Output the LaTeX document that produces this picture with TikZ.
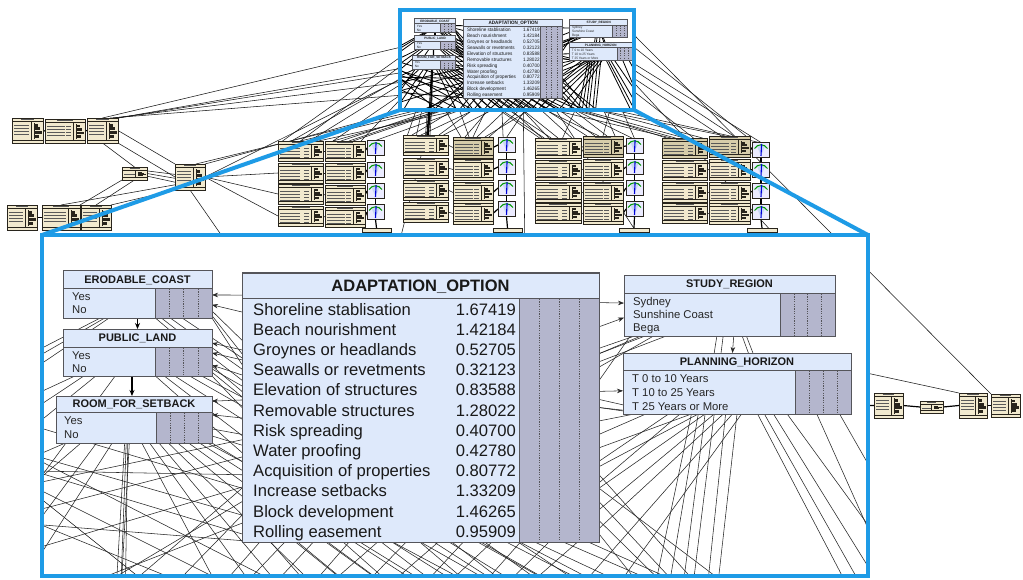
\documentclass[tikz,border=0pt]{standalone}
\usepackage{fontspec}
\setmainfont{Liberation Sans}
\usetikzlibrary{calc,arrows.meta}

\definecolor{cBlue}{RGB}{30,155,230}
\definecolor{cBN}{RGB}{222,233,251}
\definecolor{cBar}{RGB}{180,182,205}
\definecolor{cBorder}{RGB}{85,85,90}
\definecolor{cTan}{RGB}{241,233,206}
\definecolor{cTanDark}{RGB}{214,204,170}
\definecolor{cTanEdge}{RGB}{40,36,28}
\definecolor{cGauge}{RGB}{200,215,245}

\tikzset{
  hold/.style={rectangle, draw=none, fill=none, inner sep=0pt, outer sep=0pt},
  bnrule/.style={draw=cBorder, line width=0.6pt},
  bnframe/.style={draw=cBorder, line width=1pt},
  barline/.style={draw=cBorder, line width=0.4pt, dash pattern=on 1.2pt off 1.2pt},
  bntitle/.style={inner sep=0pt, text=black!90},
  bnstate/.style={inner sep=0pt, font=\fontsize{11.3}{13}\selectfont, text=black!85},
  aostate/.style={inner sep=0pt, font=\fontsize{16.6}{19}\selectfont, text=black!90},
  netline/.style={draw=black!85, line width=0.55pt},
  arrowedge/.style={netline, -{Stealth[length=6pt,width=4.5pt]}},
  thickarrow/.style={draw=black, line width=1.6pt, -{Stealth[length=6pt,width=5pt]}},
  netlink/.style={draw=black!90, line width=0.55pt},
  netlinkthick/.style={draw=black, line width=1.2pt},
  tanbox/.style={rectangle, draw=cTanEdge, line width=0.8pt, inner sep=0pt, outer sep=0pt},
  tanrule/.style={draw=cTanEdge, line width=0.35pt},
  tanink/.style={draw=black!65, line width=0.7pt},
  gaugebox/.style={rectangle, draw=cTanEdge, line width=0.8pt, fill=white!92!blue, inner sep=0pt, outer sep=0pt},
  zoomframe/.style={draw=cBlue, line width=4pt},
  zoomlink/.style={draw=cBlue, line width=4pt, line cap=round},
  insetxf/.style={shift={(397,-61)}, xscale=0.2765, yscale=0.2937, transform shape},
}

% ---------- Bayesian network nodes (name, x, y, w, h, header h, bar w, title, title size)
\newcommand\bnplace[9]{%
  \node[hold, minimum width=#4, minimum height=#5, anchor=north west] (\pfx#1) at (#2,#3) {};}
\newcommand\bndraw[9]{%
  \fill[cBN] (#2,#3) rectangle ++(#4,#5);
  \fill[cBar] ({#2+#4-#7},{#3+#6}) rectangle ({#2+#4},{#3+#5});
  \draw[bnrule] (#2,{#3+#6}) -- ++(#4,0);
  \draw[bnrule] ({#2+#4-#7},{#3+#6}) -- ({#2+#4-#7},{#3+#5});
  \foreach \k in {1,2,3} \draw[barline] ({#2+#4-#7+\k*#7/4},{#3+#6+1}) -- ({#2+#4-#7+\k*#7/4},{#3+#5-1});
  \draw[bnframe] (#2,#3) rectangle ++(#4,#5);
  \node[bntitle, font=\bfseries\fontsize{#9}{#9}\selectfont, anchor=base] (\pfx#1-title)
    at ({#2+#4/2},{#3+#6/2+0.36*#9}) {#8};}
\newcommand\bnlist{%
  \bnnode{ec}{63}{271}{149}{47}{17}{57}{ERODABLE\_COAST}{11}%
  \bnnode{pl}{63}{329}{149}{47}{18}{57}{PUBLIC\_LAND}{11}%
  \bnnode{rs}{56}{396}{156}{47}{16}{56}{ROOM\_FOR\_SETBACK}{11}%
  \bnnode{ao}{242}{273}{357}{269}{25}{80}{ADAPTATION\_OPTION}{16.5}%
  \bnnode{sr}{624}{275}{211}{61}{18}{55}{STUDY\_REGION}{11}%
  \bnnode{ph}{623}{353}{228}{61}{17}{56}{PLANNING\_HORIZON}{11}%
}
\newcommand\bncoords{%
  \foreach \x in {0,5,...,1100} \coordinate (\pfx b\x) at (\x,610);
  \foreach \y in {300,305,...,700} \coordinate (\pfx l\y) at (-20,\y);
  \foreach \y in {300,305,...,700} \coordinate (\pfx r\y) at (900,\y);
}
\newcommand\bnstates[5]{%
  \foreach \st [count=\i] in {#5}
    \node[bnstate, anchor=base west] (\pfx#1-s\i) at (#2,{#3+(\i-1)*#4}) {\st};}
\newcommand\bnvisible{%
  \let\bnnode\bndraw \bnlist
  \bnstates{ec}{72}{300}{13.3}{Yes,No}
  \bnstates{pl}{72}{359}{13.3}{Yes,No}
  \bnstates{rs}{64}{424.3}{14}{Yes,No}
  \bnstates{sr}{633}{305.3}{13.3}{Sydney,Sunshine Coast,Bega}
  \bnstates{ph}{632}{382.7}{13.7}{T 0 to 10 Years,T 10 to 25 Years,T 25 Years or More}
  \foreach \st/\val [count=\i] in {Shoreline stablisation/1.67419, Beach nourishment/1.42184,
      Groynes or headlands/0.52705, Seawalls or revetments/0.32123, Elevation of structures/0.83588,
      Removable structures/1.28022, Risk spreading/0.40700, Water proofing/0.42780,
      Acquisition of properties/0.80772, Increase setbacks/1.33209, Block development/1.46265,
      Rolling easement/0.95909} {
    \node[aostate, anchor=base west] (\pfx ao-s\i) at (253,{315+(\i-1)*20.2}) {\st};
    \node[aostate, anchor=base east] (\pfx ao-v\i) at (516,{315+(\i-1)*20.2}) {\val};
  }
}
\newcommand\bnedges{%
  % ROOM_FOR_SETBACK downwards
  \foreach \fa/\tg in {0.44/b115,0.45/b120,0.47/b120,0.46/b125,0.06/l480,0.16/l530,0.26/l600,0.36/b5,
      0.55/b230,0.6/b270,0.66/b300,0.72/b340,0.78/b380,0.85/b420,0.92/b460,0.97/b520}
    {\draw[netline] ($(\pfx rs.south west)!\fa!(\pfx rs.south east)$) -- (\pfx\tg);}
  % PUBLIC_LAND downwards
  \foreach \fa/\tg in {0.08/l420,0.14/l445,0.22/l470,0.35/l560,0.62/b420,0.68/b470,0.75/b540,0.85/b600,0.93/b650}
    {\draw[netline] ($(\pfx pl.south west)!\fa!(\pfx pl.south east)$) -- (\pfx\tg);}
  % ERODABLE_COAST downwards
  \foreach \fa/\tg in {0.25/l380,0.28/l390,0.31/l405,0.62/b500,0.66/b540,0.72/b580,0.8/b620}
    {\draw[netline] ($(\pfx ec.south west)!\fa!(\pfx ec.south east)$) -- (\pfx\tg);}
  % ADAPTATION_OPTION downwards
  \foreach \fa/\tg in {0.05/b200,0.08/b330,0.12/b220,0.15/b380,0.2/b250,0.24/b420,0.3/b290,0.33/b470,
      0.38/b300,0.42/b500,0.46/b340,0.5/b540,0.55/b360,0.58/b560,0.62/b400,0.66/b600,0.7/b420,
      0.74/b640,0.78/b460,0.82/b680,0.86/b480,0.9/b720,0.94/b500,0.97/b740}
    {\draw[netline] ($(\pfx ao.south west)!\fa!(\pfx ao.south east)$) -- (\pfx\tg);}
  \foreach \fa/\tg in {0.75/b720,0.85/b700,0.92/b690,0.97/b660,0.8/b760}
    {\draw[netline] ($(\pfx ao.north east)!\fa!(\pfx ao.south east)$) -- (\pfx\tg);}
  % PLANNING_HORIZON downwards
  \foreach \fa/\tg in {0.3/b650,0.33/b665,0.36/b680,0.4/b690,0.45/b705,0.5/b715,0.48/b560,0.52/b600,
      0.59/b860,0.62/b875,0.66/b895,0.72/b930,0.95/r520,0.85/r600}
    {\draw[netline] ($(\pfx ph.south west)!\fa!(\pfx ph.south east)$) -- (\pfx\tg);}
  % links reaching ADAPTATION_OPTION from the lower left
  \foreach \tg/\fb in {l525/0.684,l565/0.796,l495/0.62,l440/0.9,l455/0.97,l520/0.995,l410/0.8,
      l470/0.75,b60/0.85,b20/0.93,b100/0.8,b150/0.9}
    {\draw[netline] (\pfx\tg) -- ($(\pfx ao.north west)!\fb!(\pfx ao.south west)$);}
  \foreach \sa/\tg in {l430/b330,l460/b280,l500/b250,b180/l450}
    {\draw[netline] (\pfx\sa) -- (\pfx\tg);}
  % left-hand nodes into ADAPTATION_OPTION
  \foreach \nd/\fa/\fb in {ec/0.85/0.25,ec/0.95/0.3,ec/1.0/0.34,pl/0.85/0.42,pl/0.92/0.46,pl/1.0/0.5,
      rs/0.7/0.6,rs/0.85/0.64,rs/1.0/0.7}
    {\draw[netline] ($(\pfx\nd.north east)!\fa!(\pfx\nd.south east)$) -- ($(\pfx ao.north west)!\fb!(\pfx ao.south west)$);}
  \foreach \fa/\nd/\fb in {0.082/ec/0.51,0.145/ec/0.72,0.286/pl/0.30,0.323/pl/0.51,0.379/pl/0.77,
      0.472/rs/0.11,0.539/rs/0.40}
    {\draw[arrowedge] ($(\pfx ao.north west)!\fa!(\pfx ao.south west)$) -- ($(\pfx\nd.north east)!\fb!(\pfx\nd.south east)$);}
  % ADAPTATION_OPTION towards the right-hand nodes
  \foreach \fa/\nd/\fb in {0.11/sr/0.46,0.2/sr/0.70,0.44/ph/0.62}
    {\draw[arrowedge] ($(\pfx ao.north east)!\fa!(\pfx ao.south east)$) -- ($(\pfx\nd.north west)!\fb!(\pfx\nd.south west)$);}
  \foreach \fa/\nd/\fb in {0.3/sr/0.08,0.35/sr/0.14,0.4/sr/0.03,0.55/ph/0.05,0.6/ph/0.1,0.65/ph/0.3,
      0.7/ph/0.2,0.72/ph/0.33,0.78/ph/0.25,0.8/ph/0.36,0.88/ph/0.4,0.95/ph/0.44,0.5/ph/0.15}
    {\draw[netline] ($(\pfx ao.north east)!\fa!(\pfx ao.south east)$) -- ($(\pfx\nd.south west)!\fb!(\pfx\nd.south east)$);}
  \foreach \fa/\fb in {0.5/0.95,0.47/0.85}
    {\draw[netline] ($(\pfx ao.north east)!\fa!(\pfx ao.south east)$) -- ($(\pfx ph.north west)!\fb!(\pfx ph.south west)$);}
  % STUDY_REGION downwards
  \draw[arrowedge] ($(\pfx sr.south west)!0.52!(\pfx sr.south east)$) -- ($(\pfx ph.north west)!0.48!(\pfx ph.north east)$);
  \foreach \fa/\fb in {0.44/0.4,0.47/0.43,0.56/0.55,0.58/0.57}
    {\draw[netline] ($(\pfx sr.south west)!\fa!(\pfx sr.south east)$) -- ($(\pfx ph.north west)!\fb!(\pfx ph.north east)$);}
  \foreach \fa/\fb in {0.05/0.28,0.1/0.3,0.2/0.33}
    {\draw[netline] ($(\pfx sr.south west)!\fa!(\pfx sr.south east)$) -- ($(\pfx ao.north east)!\fb!(\pfx ao.south east)$);}
  % chain of the left-hand nodes
  \draw[thickarrow] ($(\pfx ec.south west)!0.5!(\pfx ec.south east)$) -- ($(\pfx pl.north west)!0.5!(\pfx pl.north east)$);
  \draw[thickarrow] ($(\pfx pl.south west)!0.463!(\pfx pl.south east)$) -- ($(\pfx rs.north west)!0.487!(\pfx rs.north east)$);
}

% ---------- small network nodes of the full model
\newcommand\tanplace[6]{%
  \node[hold, minimum width=#4, minimum height=#5, anchor=north west] (#1) at (#2,#3) {};}
\newcommand\tandraw[6]{%
  \node[tanbox, fill=#6, minimum width=#4, minimum height=#5, anchor=north west] (#1) at (#2,#3) {};
  \draw[tanrule] (#2,{#3+3.5}) -- ++(#4,0);
  \draw[tanrule] (#2,{#3+#5-3}) -- ++(#4,0);
  \draw[tanink] ({#2+#4*0.3},{#3+1.8}) -- ++({#4*0.4},0);
  \pgfmathtruncatemacro\tanrows{max(1,min(4,(#5-8)/3))}%
  \foreach \k in {1,...,\tanrows} {
    \draw[tanink] ({#2+2},{#3+4+\k*3}) -- ++({#4*0.45},0);
    \draw[tanink] ({#2+#4-19},{#3+4+\k*3}) -- ++(5,0);
  }
  \draw[tanrule] ({#2+#4-12},{#3+3.5}) -- ({#2+#4-12},{#3+#5-3});
  \fill[cTanEdge] ({#2+#4-9},{#3+5}) rectangle ({#2+#4-7.6},{#3+#5-4});
  \foreach \q/\blen in {0.05/2.5,0.3/4.5,0.55/6.5,0.8/3.5}
    \fill[cTanEdge] ({#2+#4-7.6},{#3+5+(#5-10)*\q}) rectangle ++(\blen,{max(1.2,(#5-10)*0.2)});
}
\newcommand\gaugeplace[3]{\node[hold, minimum width=17, minimum height=15] (#1) at (#2,#3) {};}
\newcommand\gaugedraw[3]{%
  \node[gaugebox, minimum width=17, minimum height=15] (#1) at (#2,#3) {};
  \fill[cGauge] (#2,{#3+6}) -- ({#2-4.5},{#3-5}) -- ({#2+4.5},{#3-5}) -- cycle;
  \draw[green!60!black, line width=1pt] ({#2-6.5},{#3-1.5}) .. controls ({#2-3},{#3-6.5}) and ({#2+3},{#3-6.5}) .. ({#2+6.5},{#3-1.5});
  \draw[blue!85!black, line width=1.1pt] (#2,{#3+6}) -- ({#2+0.6},{#3-6});
}
\newcommand\barplace[5]{\node[hold, minimum width=#4, minimum height=#5, anchor=north west] (#1) at (#2,#3) {};}
\newcommand\bardraw[5]{\node[tanbox, fill=cTan, minimum width=#4, minimum height=#5, anchor=north west] (#1) at (#2,#3) {};}
\newcommand\tancol[6]{%
  \foreach \yy [count=\i] in {#5} {%
    \ifnum\i=1 \def\tancolour{#6}\else\def\tancolour{cTan}\fi
    \tannode{#1\i}{#2}{\yy}{#3}{#4}{\tancolour}}}
\newcommand\gaugecol[3]{\foreach \yy [count=\i] in {#3} {\gaugenode{#1\i}{#2}{\yy}}}
\newcommand\tanlist{%
  \tannode{L1}{12}{118}{31}{25}{cTan}
  \tannode{L2}{45}{119}{40}{24}{cTan}
  \tannode{L3}{87}{118}{31}{25}{cTan}
  \tannode{L4}{122}{167}{25}{13}{cTan}
  \tannode{L5}{175}{164}{30}{26}{cTan}
  \tannode{L6}{7}{205}{30}{25}{cTan}
  \tannode{L7}{42}{205}{38}{25}{cTan}
  \tannode{L8}{81}{205}{30}{25}{cTan}
  \tannode{R1}{874}{393}{29}{25}{cTan}
  \tannode{R2}{920}{401}{23}{12}{cTan}
  \tannode{R3}{959}{393}{28}{25}{cTan}
  \tannode{R4}{991}{394}{29}{23}{cTan}
  \tancol{g1a}{278}{45}{20}{141,163,184,206}{cTan}
  \tancol{g1b}{325}{40}{20}{141,163,185,207}{cTan}
  \gaugecol{g1g}{375.5}{148,170,191,212}
  \barnode{g1bar}{362}{228}{29}{4}
  \tancol{g2a}{403}{45}{20}{135,158,180,202}{cTan}
  \tancol{g2b}{453}{40}{21}{137,159,182,203}{cTanDark}
  \gaugecol{g2g}{506.5}{145,167,188,209}
  \barnode{g2bar}{493}{228}{29}{4}
  \tancol{g3a}{535}{46}{20}{138,160,182,203}{cTan}
  \tancol{g3b}{583}{40}{21}{136,159,182,203}{cTanDark}
  \gaugecol{g3g}{634.5}{146,167,188,209}
  \barnode{g3bar}{619}{228}{30}{4}
  \tancol{g4a}{662}{45}{20}{138,160,182,203}{cTanDark}
  \tancol{g4b}{709}{41}{21}{136,159,182,203}{cTanDark}
  \gaugecol{g4g}{761}{150,170,191,212}
  \barnode{g4bar}{747}{228}{30}{4}
}

\begin{document}
\begin{tikzpicture}[x=1pt,y=-1pt]
\useasboundingbox (0,0) rectangle (1023,580);
\fill[white] (0,0) rectangle (1023,580);
\coordinate (insetSW) at (400,110);
\coordinate (insetSE) at (634,110);
\coordinate (zoomNW) at (42,235);
\coordinate (zoomNE) at (868,235);

% anchors of the reduced overview copy
\begin{scope}[insetxf]
  \def\pfx{m}\let\bnnode\bnplace
  \bnlist \bncoords
\end{scope}

% anchors of the surrounding model
\let\tannode\tanplace \let\gaugenode\gaugeplace \let\barnode\barplace
\tanlist
\coordinate (hidA) at (525,260);
\coordinate (hidB) at (655,260);
\coordinate (hidC) at (395,260);
\coordinate (hidD) at (800,262);
\coordinate (hidE) at (240,262);
\coordinate (hidF) at (840,405);
\coordinate (hidG) at (700,337);

% links inside the groups
\foreach \g in {1,2,3,4} {
  \foreach \i in {1,2,3,4} {
    \draw[netlink] (g\g a\i.east) -- (g\g b\i.west);
    \draw[netlinkthick] (g\g b\i.east) -- (g\g g\i.west);
  }
  \foreach \i/\j in {1/2,2/3,3/4} \draw[netlinkthick] (g\g g\i.south) -- (g\g g\j.north);
  \draw[netlinkthick] (g\g g4.south) -- (g\g bar.north);
}
% left cluster
\draw[netlinkthick] (L1.east) -- (L2.west);
\draw[netlinkthick] (L2.east) -- (L3.west);
\draw[netlinkthick] (L6.east) -- (L7.west);
\draw[netlinkthick] (L7.east) -- (L8.west);
\draw[netlink] (L3.south) -- (L4.north);
\draw[netlink] (L3.south east) -- (L5.west);
\draw[netlink] (L3.east) -- (L5.north west);
\foreach \fa/\fb in {0.3/0.4,0.5/0.55,0.7/0.7}
  \draw[netlink] ($(L4.north east)!\fa!(L4.south east)$) -- ($(L5.north west)!\fb!(L5.south west)$);
\draw[netlink] (L4.south) -- (L8.north);
\draw[netlink] (L4.south west) -- (L7.north east);
\draw[netlink] (L5.south west) -- (L8.north east);
\draw[netlink] ($(L5.north west)!0.8!(L5.south west)$) -- (L7.north);
\draw[netlink] (L5.south) -- (hidE);
\foreach \fa/\fb in {0.75/0.9,0.85/0.7,1.0/0.55}
  \draw[netlink] ($(L3.north west)!\fa!(L3.north east)$) -- ($(mao.north west)!\fb!(mao.south west)$);
\draw[netlink] (L3.north east) -- ($(mrs.north west)!0.8!(mrs.south west)$);
\draw[netlink] (L3.north) -- ($(mpl.north west)!0.6!(mpl.south west)$);
\draw[netlink] (L5.north east) -- ($(mao.north west)!0.95!(mao.south west)$);
\draw[netlink] ($(L5.north west)!0.7!(L5.north east)$) -- ($(mao.south west)!0.03!(mao.south east)$);
\draw[netlink] (L5.east) -- ($(mrs.south west)!0.2!(mrs.south east)$);
\foreach \r in {2,3,4} \draw[netlink] (L5.east) -- (g1a\r.west);
% right cluster
\draw[netlinkthick] (hidF) -- (R1.west);
\draw[netlinkthick] (R1.east) -- (R2.west);
\draw[netlinkthick] (R2.east) -- (R3.west);
\draw[netlinkthick] (R3.east) -- (R4.west);
\draw[netlink] (hidG) -- (R3.north west);
\draw[netlink] (msr.east) -- (R4.north west);
% overview nodes to the groups
\foreach \sa/\fa/\da/\fb in {mrs/0.1/g1a1/0.3, mrs/0.3/g1a1/0.7, mpl/0.2/g1a1/0.5, mao/0.05/g1b1/0.4,
    mao/0.15/g1b1/0.7, mrs/0.6/g1b1/0.2, mao/0.3/g1g1/0.5, mao/0.5/g1a1/0.9, mec/0.5/g1a1/0.1,
    mpl/0.8/g1b1/0.9, mrs/0.42/g2a1/0.5, mrs/0.5/g2a1/0.6, mao/0.1/g2a1/0.2, mao/0.25/g2a1/0.8,
    mao/0.35/g2b1/0.3, mao/0.55/g2b1/0.6, mph/0.1/g2b1/0.9, mao/0.7/g2g1/0.5, mec/0.7/g2a1/0.1,
    mph/0.3/g2a1/0.9, mao/0.2/g3a1/0.2, mao/0.45/g3a1/0.5, mao/0.65/g3a1/0.8, mao/0.8/g3b1/0.3,
    mao/0.95/g3b1/0.6, mph/0.2/g3b1/0.8, mph/0.5/g3g1/0.5, mrs/0.8/g3a1/0.35, mpl/0.9/g3b1/0.1,
    mao/0.4/g4a1/0.2, mao/0.75/g4a1/0.5, mph/0.4/g4a1/0.7, mph/0.6/g4b1/0.3, mph/0.8/g4b1/0.6,
    mph/0.95/g4g1/0.5, msr/0.9/g4b1/0.9, mao/0.9/g4a1/0.9, mrs/0.9/g4a1/0.1,
    mao/0.12/g1a1/0.5, mao/0.22/g1b1/0.2, mao/0.28/g2b1/0.5, mao/0.38/g2g1/0.3, mao/0.48/g3a1/0.3,
    mao/0.58/g3b1/0.4, mao/0.68/g4a1/0.3, mao/0.78/g4b1/0.4, mao/0.88/g3g1/0.4, mao/0.98/g4g1/0.4,
    mph/0.15/g2a1/0.4, mph/0.25/g1b1/0.6, mph/0.45/g3a1/0.6, mph/0.65/g2b1/0.8, mph/0.85/g3b1/0.5,
    mrs/0.2/g2b1/0.2, mrs/0.65/g3a1/0.1, mrs/0.75/g2b1/0.4, mpl/0.5/g2a1/0.3, mec/0.3/g3a1/0.15}
  {\draw[netlink] ($(\sa.south west)!\fa!(\sa.south east)$) -- ($(\da.north west)!\fb!(\da.north east)$);}
\draw[draw=black, line width=2.5pt] ($(mrs.south west)!0.46!(mrs.south east)$) -- ($(g2a1.north west)!0.55!(g2a1.north east)$);
\draw[netlink] ($(mao.south west)!0.6!(mao.south east)$) -- (hidA);
\draw[netlink] ($(mao.south west)!0.85!(mao.south east)$) -- (hidB);
\draw[netlink] ($(mrs.south west)!0.7!(mrs.south east)$) -- (hidC);
\draw[netlink] ($(mph.south west)!0.7!(mph.south east)$) -- (hidD);

% nodes of the surrounding model
\let\tannode\tandraw \let\gaugenode\gaugedraw \let\barnode\bardraw
\tanlist

% overview inset
\fill[white] (400,10) rectangle (634,110);
\begin{scope}
  \clip (400,10) rectangle (634,110);
  \begin{scope}[insetxf]
    \def\pfx{m}
    \tikzset{netline/.style={draw=black, line width=0.8pt},
             arrowedge/.style={netline}, thickarrow/.style={netline, line width=1.4pt}}
    \bnedges
    \bnvisible
  \end{scope}
\end{scope}
\draw[zoomframe] (400,10) rectangle (634,110);

% enlarged view
\fill[white] (42,235) rectangle (868,576);
\begin{scope}
  \clip (42,235) rectangle (868,576);
  \def\pfx{}\let\bnnode\bnplace
  \bnlist \bncoords
  \bnedges
  \bnvisible
\end{scope}
\draw[zoomframe] (42,235) rectangle (868,576);
\draw[zoomlink] (insetSW) -- (zoomNW);
\draw[zoomlink] (insetSE) -- (zoomNE);
\end{tikzpicture}
\end{document}
